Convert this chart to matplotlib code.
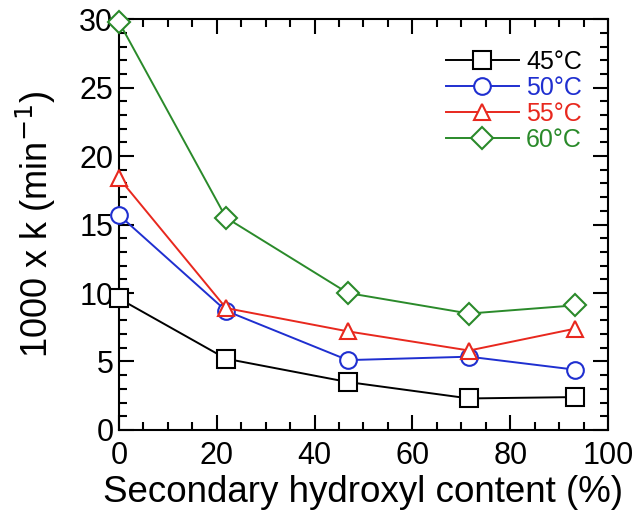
import matplotlib.pyplot as plt
from matplotlib.ticker import MultipleLocator

plt.rcParams['font.family'] = ['Liberation Sans', 'DejaVu Sans']

# Secondary hydroxyl content (%)
x = [0, 21.9, 46.8, 71.6, 93.3]

# 1000 x k (min^-1) at each temperature
k_45 = [9.6, 5.2, 3.5, 2.3, 2.4]
k_50 = [15.7, 8.7, 5.1, 5.35, 4.4]
k_55 = [18.4, 8.9, 7.2, 5.8, 7.4]
k_60 = [29.8, 15.5, 10.0, 8.5, 9.1]

labels = ['45°C', '50°C', '55°C', '60°C']
series = [k_45, k_50, k_55, k_60]
colors = ['black', '#1f2fd0', '#e8281e', '#2a8a2a']
markers = ['s', 'o', '^', 'D']
msizes = [13, 12, 12, 11]

fig = plt.figure(figsize=(6.36, 5.18), dpi=100)
ax = fig.add_axes([0.187, 0.17, 0.769, 0.793])

for y, lab, c, m, ms in zip(series, labels, colors, markers, msizes):
    ax.plot(x, y, color=c, marker=m, markersize=ms, markerfacecolor='white',
            markeredgecolor=c, markeredgewidth=1.5, linewidth=1.4, label=lab,
            clip_on=False, zorder=3)

ax.set_xlim(0, 100)
ax.set_ylim(0, 30)
ax.xaxis.set_major_locator(MultipleLocator(20))
ax.xaxis.set_minor_locator(MultipleLocator(5))
ax.yaxis.set_major_locator(MultipleLocator(5))
ax.yaxis.set_minor_locator(MultipleLocator(1))
ax.tick_params(which='both', direction='in', top=True, right=True, width=1.5)
ax.tick_params(which='major', length=11, labelsize=22)
ax.tick_params(which='minor', length=6)
ax.tick_params(axis='x', which='major', pad=8)
ax.tick_params(axis='y', which='major', pad=4)
for sp in ax.spines.values():
    sp.set_linewidth(1.5)

ax.set_xlabel('Secondary hydroxyl content (%)', fontsize=26.5, labelpad=3)
ax.set_ylabel('1000 x k (min$^{-1}$)', fontsize=26, labelpad=15)

leg = ax.legend(loc='upper right', bbox_to_anchor=(0.967, 0.949), frameon=False,
                fontsize=18, handlelength=2.9, labelspacing=0.08,
                handletextpad=0.3, borderaxespad=0)
for txt, c in zip(leg.get_texts(), colors):
    txt.set_color(c)

fig.savefig('out.png', dpi=100)
